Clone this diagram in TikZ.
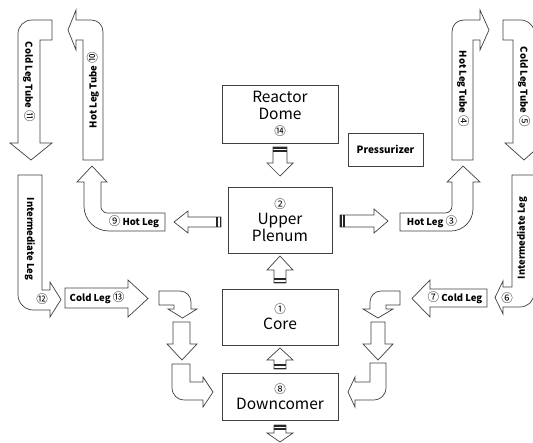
\documentclass[tikz,border=0pt]{standalone}
\usepackage{fontspec}
\setmainfont{Noto Sans CJK KR}

% black double bar at the tail of a block arrow
\newcommand{\tailbarv}[3]{% x1, x2, y (two bars going down from y)
  \fill[black!85] (#1,#3) rectangle (#2,#3+2);
  \fill[black!85] (#1,#3+3.2) rectangle (#2,#3+4.6);}
\newcommand{\tailbarh}[3]{% y1, y2, x (two bars going right from x)
  \fill[black!85] (#3,#1) rectangle (#3+2,#2);
  \fill[black!85] (#3+3.2,#1) rectangle (#3+4.6,#2);}
% circled number, a little larger than the label text
\newcommand{\cnum}[1]{{\fontsize{11.5}{11}\selectfont\mdseries #1}}

\begin{document}
\begin{tikzpicture}[x=1pt, y=-1pt,
    blk/.style={draw=black!75, line width=0.7pt, fill=white, line join=miter},
    bigbox/.style={draw=black!75, line width=0.7pt, fill=white, align=center,
      inner sep=0pt, font=\fontsize{15.5}{17}\selectfont},
    lbl/.style={inner sep=0pt, font=\fontsize{9.5}{11}\selectfont\bfseries}]
  \useasboundingbox (0,0) rectangle (533,442);
  \clip (0,0) rectangle (533,442);

  % Boxes
  \node[bigbox, minimum width=116pt, minimum height=58pt] (dome) at (280,114)
    {Reactor\\Dome\\[-1pt]{\fontsize{11.5}{11}\selectfont ⑭}};
  \node[bigbox, minimum width=104pt, minimum height=66pt] (plenum) at (280,220)
    {{\fontsize{11.5}{11}\selectfont ②}\\[-1pt]Upper\\Plenum};
  \node[bigbox, minimum width=116pt, minimum height=56pt] (core) at (280,317)
    {{\fontsize{11.5}{11}\selectfont ①}\\[-1pt]Core};
  \node[bigbox, minimum width=116pt, minimum height=47pt] (dc) at (280,396.5)
    {{\fontsize{11.5}{11}\selectfont ⑧}\\[-1pt]Downcomer};
  \node[draw=black!75, line width=0.7pt, minimum width=75pt, minimum height=33pt,
    inner sep=0pt, font=\fontsize{10}{12}\selectfont\bfseries] (pzr) at (385.5,149.5) {Pressurizer};

  % Straight block arrows around the vessel
  \draw[blk] (273,147) -- (273,163) -- (267,163) -- (280,176) -- (293,163) -- (287,163) -- (287,147) -- cycle;
  \tailbarv{273}{287}{147}
  \draw[blk] (274,283) -- (274,270) -- (267,270) -- (280,256) -- (293,270) -- (286,270) -- (286,283) -- cycle;
  \tailbarv{274}{286}{278.4}
  \draw[blk] (274,369) -- (274,360) -- (267,360) -- (280,348) -- (293,360) -- (286,360) -- (286,369) -- cycle;
  \tailbarv{274}{286}{364.4}
  \draw[blk] (274,425) -- (274,433) -- (267,433) -- (280,442) -- (293,433) -- (286,433) -- (286,425) -- cycle;
  \tailbarv{274}{286}{425}
  \draw[blk] (221,217) -- (188,217) -- (188,211) -- (174,222) -- (188,233) -- (188,227) -- (221,227) -- cycle;
  \tailbarh{217}{227}{216.4}
  \draw[blk] (340,215) -- (374,215) -- (374,209) -- (388,221) -- (374,233) -- (374,227) -- (340,227) -- cycle;
  \tailbarh{215}{227}{340}

  % Hot legs
  \draw[blk] (165,213) -- (107,213) .. controls (104,213) and (101,210) .. (101,207) -- (101,182)
    -- (107,182) -- (92,166) -- (77,182) -- (84,182) -- (84,206)
    .. controls (84,220) and (95,231) .. (109,231) -- (165,231) -- cycle;
  \node[lbl] (hl9) at (134,222) {\cnum{⑨} Hot Leg};
  \draw[blk] (400,213) -- (445,213) .. controls (449,213) and (452,210) .. (452,206) -- (452,182)
    -- (447,182) -- (463,166) -- (480,182) -- (473,182) -- (473,209)
    .. controls (473,221) and (463,231) .. (451,231) -- (400,231) -- cycle;
  \node[lbl] (hl3) at (432,222) {Hot Leg \cnum{③}};

  % Steam generator tubes
  \draw[blk] (452,160) -- (452,32) .. controls (452,25) and (457,20) .. (464,20) -- (480,20)
    -- (480,10) -- (489,30) -- (480,50) -- (480,40) -- (473,40) -- (473,160) -- cycle;
  \node[lbl, rotate=-90] (t4) at (463,89) {Hot Leg Tube \cnum{④}};
  \draw[blk] (503,20) -- (521,20) .. controls (528,20) and (535,27) .. (535,34) -- (535,143)
    -- (543,143) -- (524,160) -- (505,143) -- (513,143) -- (513,40) -- (503,40) -- cycle;
  \node[lbl, rotate=-90] (t5) at (524,87) {Cold Leg Tube \cnum{⑤}};
  \draw[blk] (103,160) -- (103,32) .. controls (103,25) and (98,20) .. (91,20) -- (76,20)
    -- (76,10) -- (68,30) -- (76,50) -- (76,40) -- (83,40) -- (83,160) -- cycle;
  \node[lbl, rotate=90] (t10) at (93,90) {Hot Leg Tube \cnum{⑩}};
  \draw[blk] (52,20) -- (32,20) .. controls (24,20) and (18,26) .. (18,34) -- (18,143)
    -- (10,143) -- (31,160) -- (52,143) -- (40,143) -- (40,40) -- (52,40) -- cycle;
  \node[lbl, rotate=-90] (t11) at (29,82) {Cold Leg Tube \cnum{⑪}};

  % Intermediate legs
  \draw[blk] (18,175) -- (42,175) -- (42,290) -- (50,290) -- (50,282) -- (61,299.5) -- (50,317)
    -- (50,310) -- (33,310) .. controls (25,310) and (18,303) .. (18,295) -- cycle;
  \node[lbl, rotate=-90] (il12) at (30,239) {Intermediate Leg};
  \node[lbl] (n12) at (42,299) {\cnum{⑫}};
  \draw[blk] (512,175) -- (534,175) -- (534,293) .. controls (534,301) and (528,307) .. (520,307)
    -- (503,307) -- (503,314) -- (495,297.5) -- (503,281) -- (503,287) -- (512,287) -- cycle;
  \node[lbl, rotate=90] (il6) at (522,238) {Intermediate Leg};
  \node[lbl] (n6) at (507,298) {\cnum{⑥}};

  % Cold legs
  \draw[blk] (65,288) -- (128,288) -- (128,280) -- (148,298.5) -- (128,317) -- (128,308) -- (65,308) -- cycle;
  \node[lbl] (cl13) at (97,298) {Cold Leg \cnum{⑬}};
  \draw[blk] (487,289) -- (430,289) -- (430,280) -- (412,298.5) -- (430,317) -- (430,307) -- (487,307) -- cycle;
  \node[lbl] (cl7) at (455,298) {\cnum{⑦} Cold Leg};

  % Downcomer inlet bends, left
  \draw[blk] (159,291) -- (180,291) .. controls (186,291) and (191,296) .. (191,302) -- (191,309)
    -- (197,309) -- (182.5,318) -- (168,309) -- (174,309) -- (174,305) -- (159,305) -- cycle;
  \draw[blk] (173,322) -- (173,344) -- (167,344) -- (182,360) -- (197,344) -- (190,344) -- (190,322) -- cycle;
  \draw[blk] (172,364) -- (190,364) -- (190,382) -- (203,382) -- (203,377) -- (213,392) -- (203,407)
    -- (203,400) -- (185,400) .. controls (177,400) and (172,395) .. (172,387) -- cycle;

  % Downcomer inlet bends, right
  \draw[blk] (400,291) -- (381,291) .. controls (375,291) and (370,296) .. (370,302) -- (370,309)
    -- (363,309) -- (378,318) -- (393,309) -- (386,309) -- (386,305) -- (400,305) -- cycle;
  \draw[blk] (371,322) -- (371,344) -- (363,344) -- (378,360) -- (393,344) -- (385,344) -- (385,322) -- cycle;
  \draw[blk] (370,363) -- (386,363) -- (386,387) .. controls (386,395) and (381,400) .. (373,400)
    -- (355,400) -- (355,407) -- (348,392) -- (355,377) -- (355,382) -- (370,382) -- cycle;
\end{tikzpicture}
\end{document}
